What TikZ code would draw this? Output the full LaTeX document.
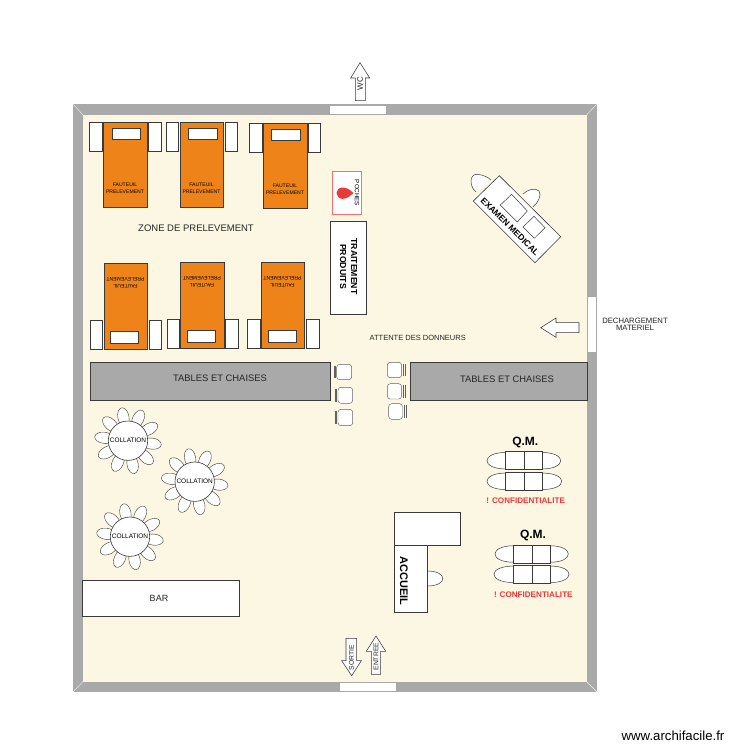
\documentclass[tikz,border=0pt]{standalone}
\usepackage{fontspec}
\setmainfont{Liberation Sans}
\definecolor{wallc}{HTML}{A9A9A9}
\definecolor{floorc}{HTML}{FBF7E3}
\definecolor{orangec}{HTML}{EE8319}
\definecolor{redc}{HTML}{E83A3A}
\definecolor{linec}{HTML}{3A3A3A}
\tikzset{
  x=1pt,y=-1pt,
  wall/.style={fill=wallc,draw=none},
  door/.style={fill=white,draw=none},
  furn/.style={fill=white,draw=linec,line width=.6pt},
  seat/.style={fill=white,draw=linec,line width=.5pt},
  chairback/.style={fill=white,draw=linec,line width=.45pt},
  bedc/.style={fill=orangec,draw=linec,line width=.6pt},
  tablec/.style={fill=wallc,draw=linec,line width=.7pt},
  arrowc/.style={fill=white,draw=linec,line width=.55pt,line join=miter},
  lbl/.style={inner sep=0pt,align=center,text=black!85},
}
\newcommand{\FBed}[8]{%
  \draw[bedc] (#1,#3) rectangle (#2,#4);
  \draw[furn] (#5,#7) rectangle (#6,#8);
}
\newcommand{\FSides}[6]{%
  \draw[chairback] (#1,#5) rectangle (#2,#6);
  \draw[chairback] (#3,#5) rectangle (#4,#6);
}
\newcommand{\FlatChair}[6]{% seat x1 x2 y1 y2, back line xs
  \draw[seat,draw=linec!80,line width=.45pt,rounded corners=3pt] (#1,#3) rectangle (#2,#4);
  \draw[line width=.4pt,draw=linec!80] ({#5},{#3+1.5}) -- ({#5},{#4-1.5}) ({#6},{#3+1.5}) -- ({#6},{#4-1.5});
}
\newcommand{\Flower}[3]{%
  \begin{scope}[shift={(#1,#2)}]
  \foreach \a in {7,43,79,115,151,187,223,259,295,331}
    \draw[seat,line width=.4pt,rotate=-\a] (24,0) ellipse [x radius=9.5,y radius=5.6];
  \draw[seat,line width=.6pt] (0,0) circle (19.7);
  \node[lbl,font=\fontsize{6.5}{7}\selectfont,text=black] (#3) at (0,0) {COLLATION};
  \end{scope}
}
\newcommand{\Desk}[7]{% x1 xm x2 y1 y2 left right
  \draw[seat] (#1,{#4+.8}) .. controls ({#1+(#6-#1)*1.333},{#4+.8}) and ({#1+(#6-#1)*1.333},{#5-.8}) .. (#1,{#5-.8});
  \draw[seat] (#3,{#4+.8}) .. controls ({#3+(#7-#3)*1.333},{#4+.8}) and ({#3+(#7-#3)*1.333},{#5-.8}) .. (#3,{#5-.8});
  \draw[furn,line width=.7pt] (#1,#4) rectangle (#3,#5);
  \draw[linec,line width=.6pt] (#2,#4) -- (#2,#5);
}
\begin{document}
\begin{tikzpicture}
\useasboundingbox (0,0) rectangle (750,750);
\fill[white] (0,0) rectangle (750,750);
% walls
\fill[wall] (73,104) rectangle (597,692);
\fill[floorc] (83,115) rectangle (586.5,681.5);
\draw[white!85!wallc,line width=.4pt] (73,104) -- (83,115) (597,104) -- (586.5,115) (597,692) -- (586.5,681.5) (73,692) -- (83,681.5);
\fill[door] (330,106) rectangle (386,113.5);
\fill[door] (587.5,297) rectangle (596,352);
\fill[door] (340,683) rectangle (396,691);
% fauteuils, top row
\FSides{89}{102}{148}{161}{122}{151}
\FBed{103}{147}{122}{207}{112}{140}{128}{139}
\FSides{166}{178}{225}{237}{122}{151}
\FBed{180}{223}{122}{207}{188}{217}{128}{139}
\FSides{249}{262}{308}{320}{123}{152}
\FBed{263}{307}{123}{208}{271}{300}{129}{140}
\tikzset{bedtxt/.style={lbl,font=\fontsize{5.1}{6.6}\selectfont,text=black}}
\node[bedtxt] (f1) at (125,188.5) {FAUTEUIL\\PRELEVEMENT};
\node[bedtxt] (f2) at (201.5,188.5) {FAUTEUIL\\PRELEVEMENT};
\node[bedtxt] (f3) at (285,189.5) {FAUTEUIL\\PRELEVEMENT};
% fauteuils, bottom row
\FSides{90}{102}{149}{161}{320}{349}
\FBed{104}{147}{263}{349}{110}{138}{331}{343}
\FSides{167}{179}{225}{238}{319}{348}
\FBed{180}{224}{262}{348}{187}{215}{330}{342}
\FSides{247}{260}{306}{319}{319}{348}
\FBed{261}{304}{262}{348}{268}{296}{330}{342}
\node[bedtxt,rotate=180] (f4) at (125.5,282.5) {FAUTEUIL\\PRELEVEMENT};
\node[bedtxt,rotate=180] (f5) at (202,281.5) {FAUTEUIL\\PRELEVEMENT};
\node[bedtxt,rotate=180] (f6) at (282.5,281.5) {FAUTEUIL\\PRELEVEMENT};
\node[lbl,font=\fontsize{9.5}{11}\selectfont] (zone) at (196,228.5) {ZONE DE PRELEVEMENT};
% poches
\draw[fill=white,draw=redc!70,line width=.6pt] (332.5,171) rectangle (361,214);
\fill[redc] (353.5,193) .. controls (350,190) and (347,187.5) .. (342.5,187.5) .. controls (339,187.5) and (336.5,190) .. (336.5,193) .. controls (336.5,196) and (339,198.8) .. (342.5,198.8) .. controls (347,198.8) and (350,196) .. (353.5,193) -- cycle;
\node[lbl,rotate=-90,font=\fontsize{6.2}{7}\selectfont,text=black] (poches) at (357,193) {POCHES};
% traitement
\draw[furn] (330,221) rectangle (366,314);
\node[lbl,rotate=-90,font=\bfseries\fontsize{8.7}{11}\selectfont,text=black] (trait) at (348.5,266.5) {TRAITEMENT\\PRODUITS};
% examen
\draw[seat] (476,192) .. controls (468,185) and (470,172) .. (479,174.5) .. controls (484,175.5) and (488,177) .. (491,180);
\draw[seat] (523,194) .. controls (527,190) and (535,187) .. (539,191) .. controls (542,195) and (538,203) .. (533,206.7);
\draw[furn] (499.3,175.7) -- (560.7,236.7) -- (535,262.7) -- (473.3,201) -- cycle;
\draw[furn,line width=.5pt] (511.7,194.3) -- (527.3,211) -- (517.3,222) -- (500.3,205) -- cycle;
\draw[furn,line width=.5pt] (534,216.3) -- (545,227.7) -- (534.3,238.3) -- (523,227) -- cycle;
\node[lbl,rotate=-45,font=\bfseries\fontsize{8.6}{10}\selectfont,text=black] (exam) at (510,226.7) {EXAMEN MEDICAL};
% arrows
\draw[arrowc] (360,62.7) -- (369.7,78) -- (365.3,78) -- (365.3,100.7) -- (355.3,100.7) -- (355.3,78) -- (350.7,78) -- cycle;
\node[lbl,rotate=90,font=\fontsize{8}{9}\selectfont] (wc) at (360,83.5) {WC};
\draw[arrowc] (540.7,327.7) -- (556,318) -- (556,322.7) -- (579,322.7) -- (579,332.7) -- (556,332.7) -- (556,337.3) -- cycle;
\draw[arrowc] (351.7,675.7) -- (361.3,660.7) -- (356.7,660.7) -- (356.7,638.3) -- (346,638.3) -- (346,660.7) -- (341.7,660.7) -- cycle;
\node[lbl,rotate=90,font=\fontsize{6.8}{8}\selectfont] (sortie) at (351.5,657.5) {SORTIE};
\draw[arrowc] (376,636) -- (385.7,651.3) -- (380.7,651.3) -- (380.7,674.3) -- (371.3,674.3) -- (371.3,651.3) -- (366.3,651.3) -- cycle;
\node[lbl,rotate=90,font=\fontsize{6.8}{8}\selectfont] (entree) at (376,656.7) {ENTREE};
\node[lbl,font=\fontsize{7.7}{7}\selectfont] (dech) at (635,324.5) {DECHARGEMENT\\MATERIEL};
\node[lbl,font=\fontsize{7.5}{9}\selectfont] (att) at (417.7,338) {ATTENTE DES DONNEURS};
% tables
\draw[tablec] (90,362) rectangle (330,400);
\draw[tablec] (410,362) rectangle (587,400);
\node[lbl,font=\fontsize{9.4}{11}\selectfont] (t1) at (220,378.5) {TABLES ET CHAISES};
\node[lbl,font=\fontsize{9.4}{11}\selectfont] (t2) at (507,379.5) {TABLES ET CHAISES};
% small chairs
\FlatChair{336.7}{351.7}{364.3}{379.7}{333.7}{335.3}
\FlatChair{338}{352.7}{387.3}{403.3}{334.7}{336.5}
\FlatChair{338}{352.7}{409.3}{425.7}{334.7}{336.5}
\FlatChair{387.3}{401.7}{362.3}{377.7}{403}{404.8}
\FlatChair{387.3}{401.7}{383.7}{399}{403}{404.8}
\FlatChair{388.7}{402.5}{403.7}{419.3}{403.8}{406}
% collation
\Flower{128}{440.7}{c1}
\Flower{194.7}{481.7}{c2}
\Flower{130}{536.7}{c3}
% bar
\draw[furn] (82.3,580.7) rectangle (239.3,616);
\node[lbl,font=\fontsize{9}{11}\selectfont] (bar) at (159,598.7) {BAR};
% QM
\tikzset{qm/.style={lbl,font=\bfseries\fontsize{12}{13}\selectfont,text=black},
         conf/.style={lbl,font=\bfseries\fontsize{8.1}{9}\selectfont,text=redc}}
\node[qm] (qm1) at (525.3,442.7) {Q.M.};
\Desk{505.3}{524.3}{542.3}{451.7}{469.7}{487}{560.7}
\Desk{505.3}{524.3}{542.3}{472.3}{490.3}{487}{561.7}
\node[conf] (cf1) at (525.7,501) {! CONFIDENTIALITE};
\node[qm] (qm2) at (533,535.7) {Q.M.};
\Desk{513.3}{532}{550.7}{545}{563}{495}{568.3}
\Desk{513.3}{532}{550.7}{565.3}{583.3}{494}{569}
\node[conf] (cf2) at (533.3,594.3) {! CONFIDENTIALITE};
% accueil
\draw[seat] (427.3,571) .. controls (448,571) and (448,586) .. (427.3,586);
\draw[furn] (394,512.3) rectangle (460.7,545.3);
\draw[furn] (394,545.3) rectangle (427.3,612.7);
\node[lbl,rotate=-90,font=\bfseries\fontsize{11}{12}\selectfont,text=black] (acc) at (404,580.7) {ACCUEIL};
\node[lbl,font=\fontsize{13.2}{15}\selectfont,text=black] (www) at (673,735.7) {www.archifacile.fr};
\end{tikzpicture}
\end{document}
